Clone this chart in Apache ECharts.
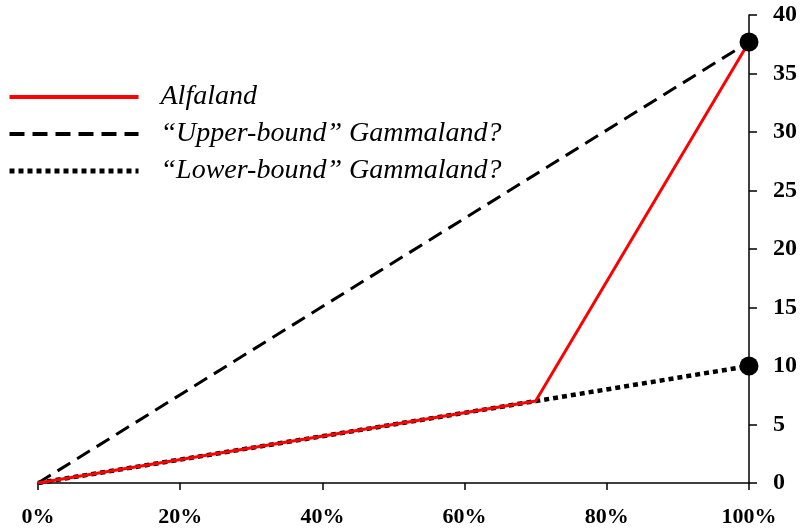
<!DOCTYPE html>
<html>
<head>
<meta charset="utf-8">
<script src="https://cdn.jsdelivr.net/npm/echarts@6/dist/echarts.min.js"></script>
<style>html,body{margin:0;padding:0;background:#fff;}#c{width:807px;height:531px;}</style>
</head>
<body>
<div id="c"></div>
<script>
var seriesNames = ['Alfaland', '\u201cUpper-bound\u201d Gammaland?', '\u201cLower-bound\u201d Gammaland?'];
var alfaland = [[0, 0], [70, 7], [100, 37.7]];
var upperBound = [[0, 0], [100, 37.7]];
var lowerBound = [[0, 0], [70, 7], [100, 10]];
var endPoints = [[100, 37.7], [100, 10]];
var xTicks = [0, 20, 40, 60, 80, 100];
var yTicks = [0, 5, 10, 15, 20, 25, 30, 35, 40];

var chart = echarts.init(document.getElementById('c'));
var serif = '"Liberation Serif", "DejaVu Serif", serif';
chart.setOption({
  animation: false,
  backgroundColor: '#fff',
  grid: {left: 38, right: 58, top: 15, bottom: 48, containLabel: false},
  legend: {
    orient: 'vertical',
    left: 7,
    top: 83,
    padding: 0,
    itemWidth: 129,
    itemHeight: 28,
    itemGap: 9,
    itemStyle: {opacity: 0},
    textStyle: {fontFamily: serif, fontStyle: 'italic', fontSize: 28, color: '#000', padding: [0, 0, 0, 17]},
    data: [
      {name: seriesNames[0], itemStyle: {opacity: 0}, lineStyle: {color: '#ff0000', width: 4, type: 'solid'}},
      {name: seriesNames[1], itemStyle: {opacity: 0}, lineStyle: {color: '#000', width: 4, type: [15, 8]}},
      {name: seriesNames[2], itemStyle: {opacity: 0}, lineStyle: {color: '#000', width: 5, type: [5, 4]}}
    ]
  },
  xAxis: {
    type: 'value', min: 0, max: 100, interval: 20,
    axisLine: {show: true, onZero: false, lineStyle: {color: '#000', width: 1.5}},
    axisTick: {show: true, length: 7, lineStyle: {color: '#000', width: 1.5}},
    splitLine: {show: false},
    axisLabel: {
      margin: 23, color: '#000', fontFamily: serif, fontWeight: 'bold', fontSize: 22,
      formatter: function (v) { return xTicks.indexOf(v) >= 0 ? v + '%' : ''; }
    }
  },
  yAxis: {
    type: 'value', position: 'right', min: 0, max: 40, interval: 5,
    axisLine: {show: true, onZero: false, lineStyle: {color: '#000', width: 1.5}},
    axisTick: {show: true, length: 8, lineStyle: {color: '#000', width: 1.5}},
    splitLine: {show: false},
    axisLabel: {
      margin: 24, color: '#000', fontFamily: serif, fontWeight: 'bold', fontSize: 24,
      formatter: function (v) { return yTicks.indexOf(v) >= 0 ? String(v) : ''; }
    }
  },
  series: [
    {name: seriesNames[1], type: 'line', data: upperBound, symbol: 'none', z: 2, color: '#000',
     lineStyle: {color: '#000', width: 3, type: [15, 8], cap: 'butt'}},
    {name: seriesNames[2], type: 'line', data: lowerBound, symbol: 'none', z: 3, color: '#000',
     lineStyle: {color: '#000', width: 4.5, type: [5, 4], cap: 'butt'}},
    {name: seriesNames[0], type: 'line', data: alfaland, symbol: 'none', z: 4, color: '#ff0000',
     lineStyle: {color: '#ff0000', width: 3}},
    {type: 'scatter', data: endPoints, symbol: 'circle', symbolSize: 19, clip: false, z: 5,
     itemStyle: {color: '#000', opacity: 1}, silent: true}
  ]
});
</script>
</body>
</html>
